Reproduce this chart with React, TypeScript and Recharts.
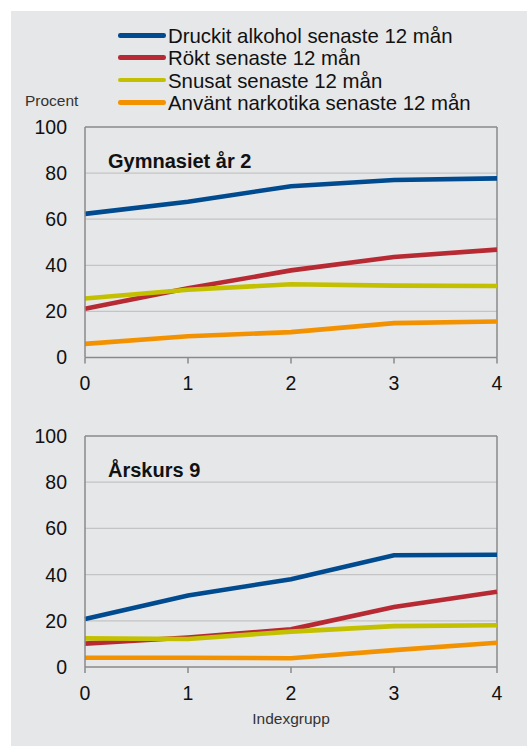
import React from "react";
import { LineChart, Line, XAxis, YAxis, CartesianGrid, ReferenceLine } from "recharts";

const groups = [0, 1, 2, 3, 4];
const seriesNames = [
  "Druckit alkohol senaste 12 mån",
  "Rökt senaste 12 mån",
  "Snusat senaste 12 mån",
  "Använt narkotika senaste 12 mån",
];
const seriesKeys = ["alkohol", "rokt", "snus", "narkotika"];
const seriesColors = ["#004a8f", "#b72a34", "#c3c000", "#f39200"];

// Gymnasiet år 2
const gymAlkohol = [62.3, 67.6, 74.3, 77.0, 77.7];
const gymRokt = [21.1, 30.0, 37.8, 43.6, 46.8];
const gymSnus = [25.6, 29.4, 31.8, 31.2, 31.0];
const gymNarkotika = [5.9, 9.2, 11.0, 14.9, 15.6];

// Årskurs 9
const ak9Alkohol = [20.8, 31.0, 38.0, 48.4, 48.6];
const ak9Rokt = [10.1, 12.8, 16.3, 26.0, 32.6];
const ak9Snus = [12.4, 12.1, 15.3, 17.7, 18.1];
const ak9Narkotika = [4.0, 4.0, 3.8, 7.3, 10.5];

const yTicks = [0, 20, 40, 60, 80, 100];

const titles = ["Gymnasiet år 2", "Årskurs 9"];
const yAxisTitle = "Procent";
const xAxisTitle = "Indexgrupp";

const FONT = "'Liberation Sans', Arial, sans-serif";

function build(a: number[], r: number[], s: number[], n: number[]) {
  return groups.map((g, i) => ({
    group: g,
    alkohol: a[i],
    rokt: r[i],
    snus: s[i],
    narkotika: n[i],
  }));
}

const gymData = build(gymAlkohol, gymRokt, gymSnus, gymNarkotika);
const ak9Data = build(ak9Alkohol, ak9Rokt, ak9Snus, ak9Narkotika);

const AXIS = "#8a8a8a";
const GRID = "#c4c4c4";

function Panel({
  data,
  top,
  height,
  marginTop,
  marginBottom,
}: {
  data: any[];
  top: number;
  height: number;
  marginTop: number;
  marginBottom: number;
}) {
  return (
    <div style={{ position: "absolute", left: 0, top, width: 527, height }}>
      <LineChart
        width={527}
        height={height}
        data={data}
        margin={{ top: marginTop, right: 30, bottom: marginBottom, left: 25 }}
      >
        <CartesianGrid
          vertical={false}
          stroke={GRID}
          strokeWidth={1.3}
          horizontalValues={[20, 40, 60, 80]}
        />
        <XAxis
          dataKey="group"
          type="number"
          domain={[0, 4]}
          ticks={groups}
          height={30}
          tickSize={6}
          tickMargin={13}
          stroke={AXIS}
          strokeWidth={1.5}
          tick={{ fill: "#111", fontSize: 19.5, fontFamily: FONT }}
          interval={0}
        />
        <YAxis
          domain={[0, 100]}
          ticks={yTicks}
          width={60}
          tickSize={0}
          tickMargin={18}
          tickLine={false}
          stroke={AXIS}
          strokeWidth={1.5}
          tick={{ fill: "#111", fontSize: 19.5, fontFamily: FONT }}
          interval={0}
        />
        <ReferenceLine y={100} stroke={AXIS} strokeWidth={1.5} />
        <ReferenceLine x={4} stroke={AXIS} strokeWidth={1.5} />
        {seriesKeys.map((k, i) => (
          <Line
            key={k}
            dataKey={k}
            name={seriesNames[i]}
            type="linear"
            stroke={seriesColors[i]}
            strokeWidth={4.6}
            dot={false}
            activeDot={false}
            isAnimationActive={false}
          />
        ))}
      </LineChart>
    </div>
  );
}

export default function App() {
  return (
    <div
      style={{
        position: "relative",
        width: 527,
        height: 746,
        overflow: "hidden",
        fontFamily: FONT,
      }}
    >
      <style>{"body{margin:0;overflow:hidden}"}</style>
      <div
        style={{
          position: "absolute",
          left: 11,
          top: 11,
          width: 516,
          height: 735,
          background: "#e6e7e8",
        }}
      />
      {/* Legend */}
      {seriesNames.map((name, i) => (
        <div
          key={name}
          style={{
            position: "absolute",
            left: 118,
            top: 24.9 + i * 22.3,
            height: 22.3,
            width: 400,
            fontSize: 20.4,
            lineHeight: "22.3px",
            color: "#111",
            whiteSpace: "nowrap",
          }}
        >
          <div
            style={{
              position: "absolute",
              left: 0,
              top: 8.2,
              width: 48,
              height: 4.6,
              borderRadius: 2.3,
              background: seriesColors[i],
            }}
          />
          <span style={{ position: "absolute", left: 50, top: 0 }}>{name}</span>
        </div>
      ))}
      <div
        style={{
          position: "absolute",
          left: 25,
          top: 91.6,
          fontSize: 15.5,
          lineHeight: "18px",
          color: "#333",
          whiteSpace: "nowrap",
        }}
      >
        {yAxisTitle}
      </div>
      <Panel data={gymData} top={0} height={400} marginTop={127} marginBottom={12.5} />
      <Panel data={ak9Data} top={400} height={320} marginTop={36} marginBottom={23} />
      <div
        style={{
          position: "absolute",
          left: 108,
          top: 148.8,
          fontSize: 20,
          fontWeight: "bold",
          lineHeight: "24px",
          color: "#111",
          whiteSpace: "nowrap",
        }}
      >
        {titles[0]}
      </div>
      <div
        style={{
          position: "absolute",
          left: 108,
          top: 458.4,
          fontSize: 20,
          fontWeight: "bold",
          lineHeight: "24px",
          color: "#111",
          whiteSpace: "nowrap",
        }}
      >
        {titles[1]}
      </div>
      <div
        style={{
          position: "absolute",
          left: 85,
          width: 412,
          top: 709.6,
          textAlign: "center",
          fontSize: 15.5,
          lineHeight: "18px",
          color: "#333",
        }}
      >
        {xAxisTitle}
      </div>
    </div>
  );
}
